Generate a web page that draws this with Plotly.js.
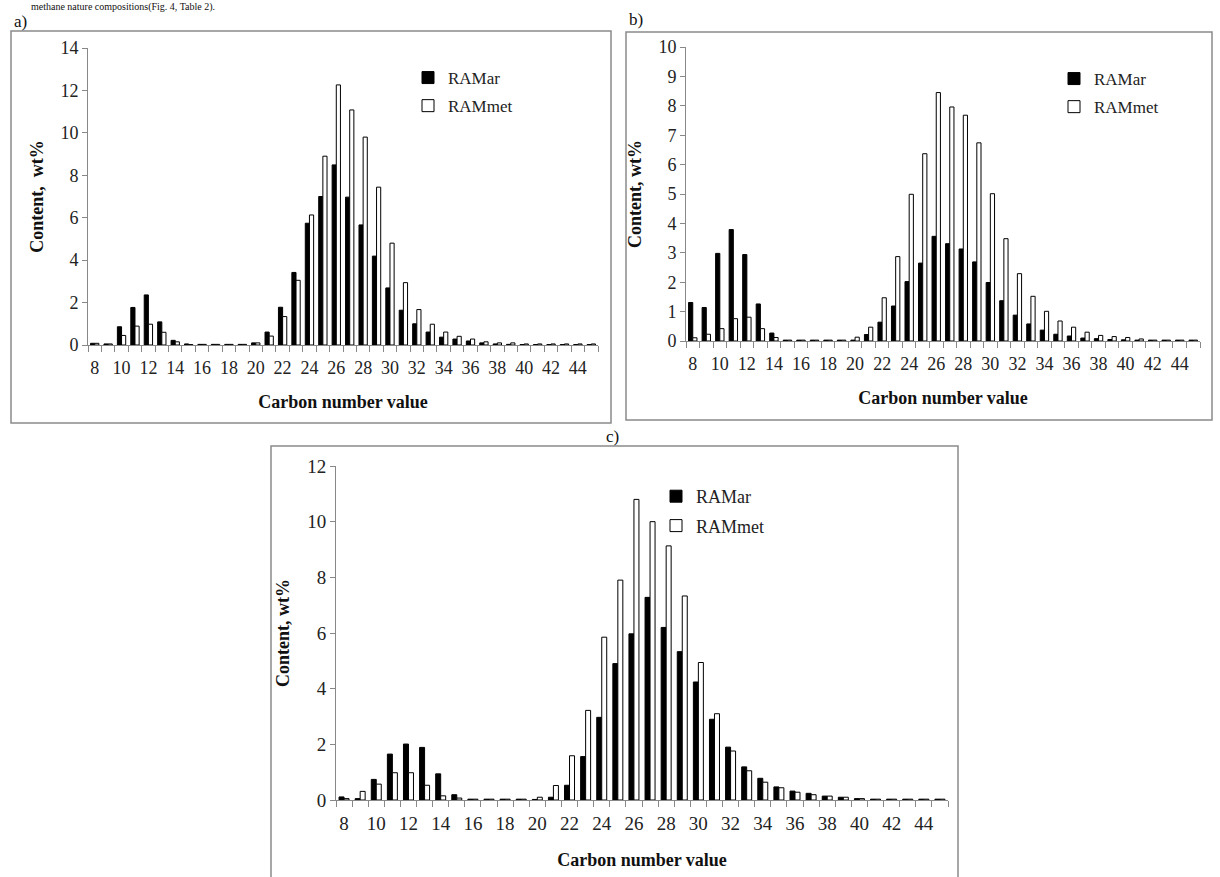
<!DOCTYPE html>
<html>
<head>
<meta charset="utf-8">
<script src="https://cdn.plot.ly/plotly-3.0.1.min.js"></script>
<style>html,body{margin:0;padding:0;background:#fff;}#chart{width:1220px;height:877px;}</style>
</head>
<body>
<div id="chart"></div>
<script>
// Carbon numbers (categories)
const carbon = [8,9,10,11,12,13,14,15,16,17,18,19,20,21,22,23,24,25,26,27,28,29,30,31,32,33,34,35,36,37,38,39,40,41,42,43,44,45];

// Panel a)
const a_ar  = [0.08,0.05,0.86,1.77,2.36,1.09,0.22,0.05,0.03,0.03,0.03,0.03,0.10,0.61,1.78,3.42,5.74,7.00,8.49,6.97,5.66,4.19,2.69,1.64,1.00,0.61,0.37,0.28,0.19,0.10,0.05,0.03,0.02,0.02,0.02,0.02,0.02,0.02];
const a_met = [0.08,0.05,0.45,0.89,0.98,0.60,0.15,0.02,0.03,0.03,0.03,0.03,0.10,0.42,1.34,3.05,6.13,8.90,12.26,11.08,9.80,7.44,4.80,2.94,1.67,0.98,0.61,0.41,0.28,0.15,0.10,0.10,0.05,0.05,0.05,0.05,0.05,0.05];

// Panel b)
const b_ar  = [1.31,1.14,2.98,3.79,2.94,1.26,0.27,0.03,0.03,0.03,0.03,0.03,0.03,0.22,0.64,1.19,2.02,2.65,3.56,3.31,3.13,2.69,1.99,1.37,0.88,0.58,0.37,0.23,0.17,0.10,0.08,0.05,0.04,0.03,0.03,0.03,0.03,0.03];
const b_met = [0.11,0.23,0.42,0.76,0.81,0.42,0.12,0.03,0.03,0.03,0.03,0.03,0.13,0.47,1.47,2.87,4.99,6.37,8.45,7.96,7.68,6.74,5.01,3.48,2.29,1.52,1.01,0.68,0.47,0.30,0.19,0.15,0.12,0.07,0.03,0.03,0.03,0.03];

// Panel c)
const c_ar  = [0.11,0.05,0.74,1.65,2.01,1.89,0.94,0.19,0.03,0.03,0.03,0.03,0.02,0.10,0.53,1.56,2.97,4.90,5.97,7.28,6.20,5.33,4.24,2.90,1.90,1.19,0.78,0.47,0.32,0.24,0.14,0.10,0.05,0.03,0.03,0.03,0.03,0.03];
const c_met = [0.05,0.31,0.57,0.98,0.98,0.53,0.15,0.07,0.03,0.03,0.03,0.03,0.10,0.52,1.59,3.22,5.85,7.90,10.80,10.00,9.13,7.33,4.94,3.10,1.76,1.05,0.64,0.44,0.28,0.19,0.14,0.10,0.05,0.03,0.03,0.03,0.03,0.03];

const seriesNames = ['RAMar', 'RAMmet'];
const panelLabels = ['a)', 'b)', 'c)'];
const yTitles = ['Content,  wt%', 'Content, wt%', 'Content, wt%'];
const xTitle = 'Carbon number value';
const captionText = 'methane nature compositions(Fig. 4, Table 2).';

const W = 1220, H = 877;
const px = v => v / W;
const py = v => 1 - v / H;

const SERIF = '"Liberation Serif", "Times New Roman", serif';

function barPair(xa, ya, leg, ar, met) {
  return [
    {type:'bar', x:carbon, y:ar, name:seriesNames[0], xaxis:xa, yaxis:ya, legend:leg, legendgroup:leg+'ar',
     marker:{color:'#000', line:{color:'#000', width:1}}, hoverinfo:'x+y'},
    {type:'bar', x:carbon, y:met, name:seriesNames[1], xaxis:xa, yaxis:ya, legend:leg, legendgroup:leg+'met',
     marker:{color:'#fff', line:{color:'#000', width:1}}, hoverinfo:'x+y'}
  ];
}

const data = [
  ...barPair('x', 'y', 'legend', a_ar, a_met),
  ...barPair('x2', 'y2', 'legend2', b_ar, b_met),
  ...barPair('x3', 'y3', 'legend3', c_ar, c_met)
];

function xAxis(domain, anchor, fs, standoff) {
  return {
    domain: domain, anchor: anchor, range: [7.5, 45.5],
    tickmode: 'linear', tick0: 8, dtick: 2, ticks: '', ticklabelstandoff: 6,
    minor: {tickmode:'linear', tick0:7.5, dtick:1, ticks:'outside', ticklen:6, tickcolor:'#888', tickwidth:1, showgrid:false},
    showline: true, linecolor: '#888', linewidth: 1, showgrid: false, zeroline: false,
    tickfont: {family: SERIF, size: fs, color: '#222'},
    title: {text: '<b>' + xTitle + '</b>', font: {family: SERIF, size: 18, color: '#111'}, standoff: standoff},
    fixedrange: true
  };
}
function yAxis(domain, anchor, max, dtick, title, fs) {
  return {
    domain: domain, anchor: anchor, range: [0, max],
    tickmode: 'linear', tick0: 0, dtick: dtick,
    ticks: 'outside', ticklen: 5, tickcolor: '#888',
    showline: true, linecolor: '#888', linewidth: 1, showgrid: false, zeroline: false,
    tickfont: {family: SERIF, size: fs, color: '#222'},
    title: {text: '<b>' + title + '</b>', font: {family: SERIF, size: 18, color: '#111'}, standoff: 12},
    fixedrange: true
  };
}

function legendAt(x, y, size) {
  return {x: px(x), y: py(y), xanchor: 'left', yanchor: 'top', bgcolor: 'rgba(0,0,0,0)',
          font: {family: SERIF, size: size, color: '#222'}, traceorder: 'grouped', tracegroupgap: 3,
          itemwidth: 30};
}

function frame(x0, y0, x1, y1) {
  return {type: 'rect', xref: 'paper', yref: 'paper', x0: px(x0), x1: px(x1), y0: py(y1), y1: py(y0),
          line: {color: '#8a8a8a', width: 1.5}, fillcolor: 'rgba(0,0,0,0)', layer: 'below'};
}

const layout = {
  width: W, height: H,
  margin: {l: 0, r: 0, t: 0, b: 0},
  paper_bgcolor: '#fff', plot_bgcolor: 'rgba(0,0,0,0)',
  barmode: 'group', bargap: 0.38, bargroupgap: 0,
  showlegend: true,
  xaxis: xAxis([px(88), px(598)], 'y', 18, 18),
  yaxis: yAxis([py(345), py(48)], 'x', 14, 2, yTitles[0], 18),
  xaxis2: xAxis([px(686), px(1200)], 'y2', 18, 18),
  yaxis2: yAxis([py(341), py(47)], 'x2', 10, 1, yTitles[1], 18),
  xaxis3: xAxis([px(336), px(948)], 'y3', 19, 20),
  yaxis3: yAxis([py(800), py(466)], 'x3', 12, 2, yTitles[2], 19),
  legend: legendAt(408, 60, 17),
  legend2: legendAt(1054, 61, 17),
  legend3: legendAt(656, 478, 18),
  shapes: [
    frame(11, 31, 611, 423),
    frame(626, 32, 1212, 420),
    frame(271, 446, 958, 890)
  ],
  annotations: [
    {text: captionText, xref: 'paper', yref: 'paper',
     x: px(30), y: py(0), xanchor: 'left', yanchor: 'top', showarrow: false,
     font: {family: SERIF, size: 10, color: '#111'}, borderpad: 0},
    {text: panelLabels[0], xref: 'paper', yref: 'paper', x: px(12), y: py(21), xanchor: 'left', yanchor: 'middle',
     showarrow: false, font: {family: SERIF, size: 17, color: '#111'}},
    {text: panelLabels[1], xref: 'paper', yref: 'paper', x: px(627), y: py(19), xanchor: 'left', yanchor: 'middle',
     showarrow: false, font: {family: SERIF, size: 17, color: '#111'}},
    {text: panelLabels[2], xref: 'paper', yref: 'paper', x: px(612), y: py(436), xanchor: 'center', yanchor: 'middle',
     showarrow: false, font: {family: SERIF, size: 17, color: '#111'}}
  ]
};

Plotly.newPlot('chart', data, layout, {staticPlot: true, displayModeBar: false});
</script>
</body>
</html>
